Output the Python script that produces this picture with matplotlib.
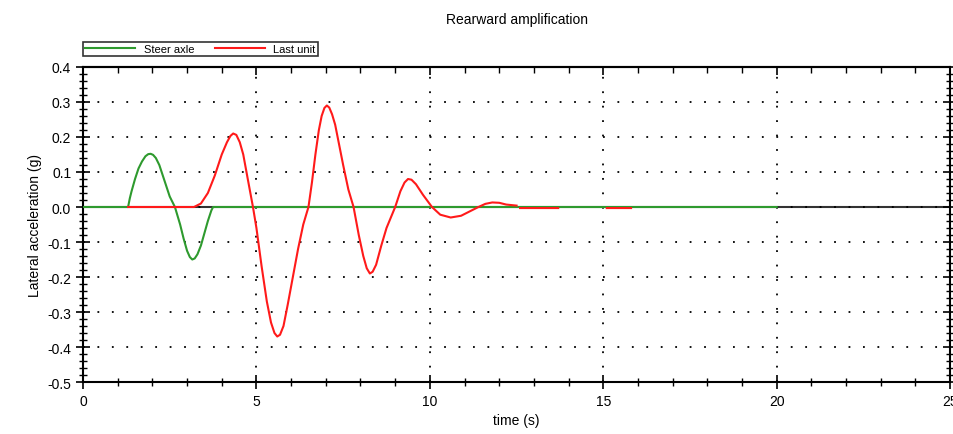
import numpy as np
import matplotlib.pyplot as plt
from matplotlib.ticker import MultipleLocator, FormatStrFormatter

# Steer axle lateral acceleration (g)
Steer_Time = [0, 1.3, 1.35, 1.4, 1.5, 1.6, 1.7, 1.8, 1.88, 1.95, 2.02, 2.1, 2.2, 2.3, 2.4,
              2.5, 2.65, 2.8, 2.9, 3.0, 3.08, 3.15, 3.22, 3.3, 3.4, 3.5, 3.6, 3.7, 3.75, 20]
Steer_Acc = [0, 0, 0.025, 0.045, 0.08, 0.11, 0.13, 0.145, 0.151, 0.152, 0.149, 0.14, 0.12,
             0.09, 0.06, 0.03, 0, -0.05, -0.09, -0.125, -0.143, -0.15, -0.147, -0.135,
             -0.11, -0.075, -0.04, -0.01, 0, 0]

# Last unit lateral acceleration (g); NaN splits the small trailing pieces
Last_Time = [1.3, 3.2, 3.4, 3.6, 3.8, 4.0, 4.15, 4.25, 4.33, 4.42, 4.52, 4.62, 4.75, 4.9,
             5.0, 5.15, 5.3, 5.42, 5.52, 5.6, 5.68, 5.78, 5.9, 6.05, 6.2, 6.35, 6.5, 6.6,
             6.7, 6.8, 6.88, 6.96, 7.03, 7.1, 7.18, 7.27, 7.38, 7.5, 7.65, 7.8, 7.95,
             8.08, 8.18, 8.27, 8.35, 8.45, 8.6, 8.75, 9.0, 9.15, 9.27, 9.37, 9.47, 9.6,
             9.8, 10.06, 10.3, 10.6, 10.9, 11.2, 11.4, 11.6, 11.8, 12.0, 12.2, 12.5,
             12.55, 12.6, 13.7, 13.75, 15.1, 15.8]
Last_Acc = [0, 0, 0.01, 0.04, 0.09, 0.15, 0.185, 0.203, 0.21, 0.206, 0.185, 0.15, 0.08, 0,
            -0.06, -0.17, -0.27, -0.33, -0.36, -0.37, -0.365, -0.34, -0.28, -0.2, -0.12,
            -0.05, 0, 0.07, 0.15, 0.22, 0.26, 0.283, 0.29, 0.284, 0.265, 0.235, 0.18, 0.12,
            0.05, 0, -0.08, -0.14, -0.175, -0.19, -0.185, -0.165, -0.11, -0.06, 0, 0.045,
            0.07, 0.08, 0.078, 0.065, 0.035, 0, -0.022, -0.03, -0.025, -0.01, 0, 0.009,
            0.013, 0.012, 0.007, 0.004, np.nan, -0.003, -0.003, np.nan, -0.003, -0.003]

plt.rcParams['font.family'] = ['Liberation Sans', 'DejaVu Sans']

fig = plt.figure(figsize=(9.54, 4.35), dpi=100)
ax = fig.add_axes([0.087, 0.1195, 0.909, 0.7242])

ax.axhline(0, color='#333333', linewidth=1.5, zorder=1)
ax.plot(Steer_Time, Steer_Acc, color='#2e9a2e', linewidth=1.5, label='Steer axle', zorder=3)
ax.plot(Last_Time, Last_Acc, color='#ff1a1a', linewidth=1.5, label='Last unit', zorder=4)

ax.set_xlim(0, 25)
ax.set_ylim(-0.5, 0.4)
ax.xaxis.set_major_locator(MultipleLocator(5))
ax.xaxis.set_minor_locator(MultipleLocator(1))
ax.yaxis.set_major_locator(MultipleLocator(0.1))
ax.yaxis.set_minor_locator(MultipleLocator(0.02))
ax.yaxis.set_major_formatter(FormatStrFormatter('%.1f'))

ax.tick_params(which='both', direction='inout', right=True, labelsize=10)
ax.tick_params(which='major', length=10, width=1.2)
ax.tick_params(which='minor', length=6, width=1)

# top ticks point inward only
top = ax.secondary_xaxis('top')
top.xaxis.set_major_locator(MultipleLocator(5))
top.xaxis.set_minor_locator(MultipleLocator(1))
top.tick_params(which='both', direction='in', labeltop=False)
top.tick_params(which='major', length=6, width=1.2)
top.tick_params(which='minor', length=4, width=1)

for s in ax.spines.values():
    s.set_linewidth(1.5)
top.spines['top'].set_linewidth(1.5)

ax.grid(True, which='major', color='black', linestyle=(0, (1, 7)), linewidth=1.3)

ax.set_title('Rearward amplification', fontsize=10, pad=32)
ax.set_xlabel('time (s)', fontsize=10, labelpad=4)
ax.set_ylabel('Lateral acceleration (g)', fontsize=10)

leg = ax.legend(loc='lower left', bbox_to_anchor=(0, 1.035), ncol=2, fontsize=8,
                frameon=True, fancybox=False, borderpad=0.2, handlelength=4.5,
                columnspacing=1.8, borderaxespad=0)
leg.get_frame().set_edgecolor('black')
leg.get_frame().set_linewidth(1.2)

plt.savefig('out.png', dpi=100)
